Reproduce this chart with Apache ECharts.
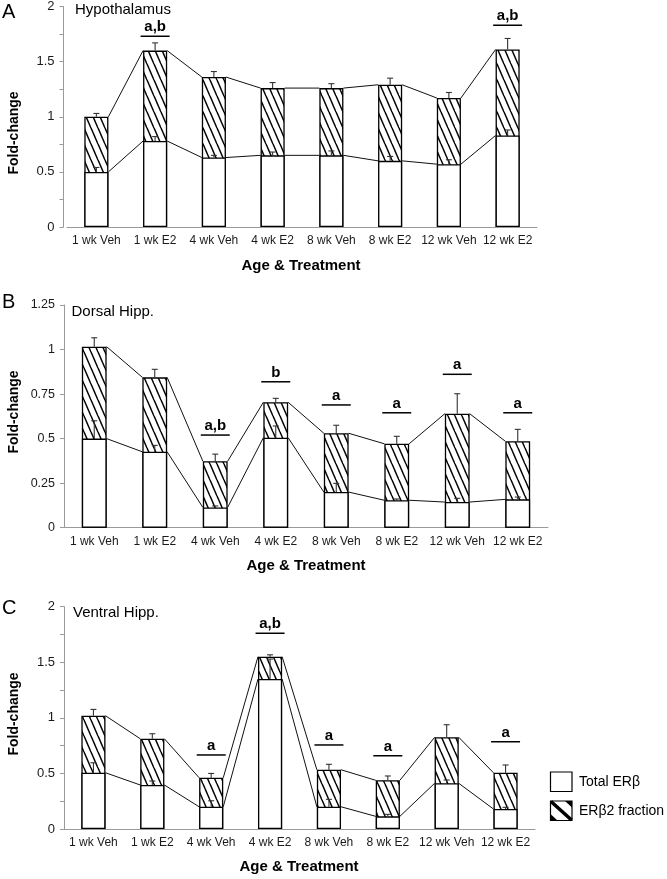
<!DOCTYPE html>
<html><head><meta charset="utf-8">
<script src="https://cdn.jsdelivr.net/npm/echarts@6/dist/echarts.min.js"></script>
<style>html,body{margin:0;padding:0;background:#fff}#c{width:667px;height:879px}</style>
</head><body><div id="c"></div>
<script>
// ---------- DATA ----------
const categories = ['1 wk Veh','1 wk E2','4 wk Veh','4 wk E2','8 wk Veh','8 wk E2','12 wk Veh','12 wk E2'];

// Panel A: Hypothalamus
const A_total    = [1.00, 1.60, 1.36, 1.26, 1.26, 1.29, 1.17, 1.61];
const A_totalErr = [0.03, 0.07, 0.05, 0.05, 0.04, 0.06, 0.05, 0.10];
const A_low      = [0.50, 0.78, 0.63, 0.65, 0.65, 0.60, 0.57, 0.83];
const A_lowErr   = [0.04, 0.04, 0.02, 0.03, 0.04, 0.04, 0.04, 0.05];
const A_sigIdx   = [1, 7];
const A_sigText  = ['a,b', 'a,b'];
const A_sigY     = [1.73, 1.83];

// Panel B: Dorsal Hipp.
const B_total    = [1.016, 0.844, 0.373, 0.704, 0.530, 0.471, 0.640, 0.485];
const B_totalErr = [0.050, 0.045, 0.040, 0.022, 0.045, 0.042, 0.112, 0.067];
const B_low      = [0.500, 0.426, 0.114, 0.505, 0.200, 0.154, 0.144, 0.159];
const B_lowErr   = [0.100, 0.036, 0.008, 0.066, 0.049, 0.007, 0.021, 0.013];
const B_sigIdx   = [2, 3, 4, 5, 6, 7];
const B_sigText  = ['a,b', 'b', 'a', 'a', 'a', 'a'];
const B_sigY     = [0.520, 0.819, 0.689, 0.645, 0.861, 0.645];

// Panel C: Ventral Hipp.
const C_total    = [1.019, 0.812, 0.461, 1.550, 0.533, 0.438, 0.825, 0.506];
const C_totalErr = [0.057, 0.045, 0.039, 0.017, 0.049, 0.039, 0.113, 0.070];
const C_low      = [0.506, 0.396, 0.200, 1.349, 0.200, 0.114, 0.411, 0.180];
const C_lowErr   = [0.090, 0.036, 0.054, 0.180, 0.067, 0.018, 0.030, 0.015];
const C_sigIdx   = [2, 3, 4, 5, 7];
const C_sigText  = ['a', 'a,b', 'a', 'a', 'a'];
const C_sigY     = [0.666, 1.761, 0.756, 0.659, 0.785];

const yTicksA = {min: 0, max: 2, interval: 0.25};
const yTicksB = {min: 0, max: 1.25, interval: 0.25};
const yTicksC = {min: 0, max: 2, interval: 0.25};

// ---------- STYLE ----------
const FONT = '"Liberation Sans", Arial, sans-serif';
const BAR_FRAC = 0.41;

function hatchPattern() {
  const c = document.createElement('canvas');
  c.width = 7; c.height = 16;
  const ctx = c.getContext('2d');
  ctx.fillStyle = '#fff'; ctx.fillRect(0, 0, 7, 16);
  ctx.strokeStyle = '#000'; ctx.lineWidth = 1.5;
  for (const off of [-7, 0, 7]) {
    ctx.beginPath(); ctx.moveTo(off, 0); ctx.lineTo(off + 7, 16); ctx.stroke();
  }
  return {image: c, repeat: 'repeat'};
}
const HATCH = hatchPattern();

const panels = [
  {total: A_total, totalErr: A_totalErr, low: A_low, lowErr: A_lowErr, sigIdx: A_sigIdx, sigText: A_sigText, sigY: A_sigY, ticks: yTicksA, half: true,
   grid: {left: 67, top: 3, width: 470, height: 224}, yOffset: 3.5},
  {total: B_total, totalErr: B_totalErr, low: B_low, lowErr: B_lowErr, sigIdx: B_sigIdx, sigText: B_sigText, sigY: B_sigY, ticks: yTicksB, half: false,
   grid: {left: 64, top: 305, width: 484, height: 222.7}, yOffset: 0},
  {total: C_total, totalErr: C_totalErr, low: C_low, lowErr: C_lowErr, sigIdx: C_sigIdx, sigText: C_sigText, sigY: C_sigY, ticks: yTicksC, half: true,
   grid: {left: 64, top: 606.7, width: 471, height: 222.3}, yOffset: 0}
];

const grids = [], xAxes = [], yAxes = [], series = [];
panels.forEach((p, k) => {
  grids.push(p.grid);
  xAxes.push({
    type: 'category', gridIndex: k, data: categories,
    axisLine: {lineStyle: {color: '#9a9a9a', width: 1}},
    axisTick: {lineStyle: {color: '#9a9a9a'}, length: 4},
    axisLabel: {color: '#1a1a1a', fontSize: 12, fontFamily: FONT, margin: 8, interval: 0}
  });
  yAxes.push({
    type: 'value', gridIndex: k, min: p.ticks.min, max: p.ticks.max, interval: p.ticks.interval, offset: p.yOffset,
    axisLine: {show: true, lineStyle: {color: '#9a9a9a', width: 1}},
    axisTick: {show: true, lineStyle: {color: '#9a9a9a'}, length: 4},
    splitLine: {show: false},
    axisLabel: {color: '#1a1a1a', fontSize: p.half ? 13 : 12.5, fontFamily: FONT, margin: 9,
      formatter: v => {
        if (p.half && Math.abs(v * 2 - Math.round(v * 2)) > 1e-9) return '';
        return String(Math.round(v * 100) / 100);
      }}
  });
  // hatched (full) bars
  series.push({
    type: 'bar', xAxisIndex: k, yAxisIndex: k, data: p.total, barWidth: (BAR_FRAC * 100) + '%', barGap: '-100%',
    itemStyle: {color: HATCH, borderColor: '#000', borderWidth: 1.3}, silent: true, z: 2
  });
  // white (Total ERβ) bars
  series.push({
    type: 'bar', xAxisIndex: k, yAxisIndex: k, data: p.low, barWidth: (BAR_FRAC * 100) + '%', barGap: '-100%',
    itemStyle: {color: '#fff', borderColor: '#000', borderWidth: 1.3}, silent: true, z: 3
  });
  // connectors
  [p.total, p.low].forEach(vals => {
    const d = [];
    for (let i = 0; i < vals.length - 1; i++) d.push([i, vals[i], vals[i + 1]]);
    series.push({
      type: 'custom', xAxisIndex: k, yAxisIndex: k, data: d, silent: true, z: 4,
      encode: {x: 0, y: [1, 2]},
      renderItem: (params, api) => {
        const i = api.value(0);
        const p1 = api.coord([i, api.value(1)]);
        const p2 = api.coord([i + 1, api.value(2)]);
        const bw = api.size([1, 0])[0] * BAR_FRAC;
        return {type: 'line', shape: {x1: p1[0] + bw / 2, y1: p1[1], x2: p2[0] - bw / 2, y2: p2[1]},
                style: {stroke: '#111', lineWidth: 1}};
      }
    });
  });
  // error bars
  [[p.total, p.totalErr], [p.low, p.lowErr]].forEach(([vals, errs]) => {
    const d = vals.map((v, i) => [i, v, v + errs[i]]);
    series.push({
      type: 'custom', xAxisIndex: k, yAxisIndex: k, data: d, silent: true, z: 5,
      encode: {x: 0, y: [1, 2]},
      renderItem: (params, api) => {
        const i = api.value(0);
        const a = api.coord([i, api.value(1)]);
        const b = api.coord([i, api.value(2)]);
        return {type: 'group', children: [
          {type: 'line', shape: {x1: a[0], y1: a[1], x2: b[0], y2: b[1]}, style: {stroke: '#333', lineWidth: 1.1}},
          {type: 'line', shape: {x1: b[0] - 3, y1: b[1], x2: b[0] + 3, y2: b[1]}, style: {stroke: '#333', lineWidth: 1.1}}
        ]};
      }
    });
  });
  // significance annotations
  const sd = p.sigIdx.map((i, j) => [i, p.sigY[j]]);
  series.push({
    type: 'custom', xAxisIndex: k, yAxisIndex: k, data: sd, silent: true, z: 6,
    encode: {x: 0, y: 1},
    renderItem: (params, api) => {
      const c = api.coord([api.value(0), api.value(1)]);
      const txt = p.sigText[params.dataIndex];
      return {type: 'group', children: [
        {type: 'line', shape: {x1: c[0] - 14.5, y1: c[1], x2: c[0] + 14.5, y2: c[1]}, style: {stroke: '#000', lineWidth: 1.5}},
        {type: 'text', style: {text: txt, x: c[0], y: c[1] - 1.5, align: 'center', verticalAlign: 'bottom',
          fontSize: 15, fontWeight: 'bold', fontFamily: FONT, fill: '#000'}}
      ]};
    }
  });
});

// ---------- TEXT / LEGEND ----------
const txt = (t, x, y, size, bold, extra) => Object.assign({
  type: 'text', x: x, y: y,
  style: {text: t, fontSize: size, fontWeight: bold ? 'bold' : 'normal', fontFamily: FONT, fill: '#000',
          align: 'left', verticalAlign: 'middle'}
}, extra || {});

const graphics = [
  txt('A', 2, 12, 20, false), txt('B', 2, 302, 20, false), txt('C', 2, 608, 20, false),
  txt('Hypothalamus', 75, 9.5, 15, false),
  txt('Dorsal Hipp.', 71.5, 312, 15, false),
  txt('Ventral Hipp.', 73, 613, 15, false),
  txt('Fold-change', 14, 133, 14, true, {rotation: Math.PI / 2, style: {text: 'Fold-change', fontSize: 14, fontWeight: 'bold', fontFamily: FONT, fill: '#000', align: 'center', verticalAlign: 'middle'}}),
  txt('Fold-change', 14, 412, 14, true, {rotation: Math.PI / 2, style: {text: 'Fold-change', fontSize: 14, fontWeight: 'bold', fontFamily: FONT, fill: '#000', align: 'center', verticalAlign: 'middle'}}),
  txt('Fold-change', 14, 714, 14, true, {rotation: Math.PI / 2, style: {text: 'Fold-change', fontSize: 14, fontWeight: 'bold', fontFamily: FONT, fill: '#000', align: 'center', verticalAlign: 'middle'}}),
  txt('Age & Treatment', 301, 266, 15, true, {style: {text: 'Age & Treatment', fontSize: 15, fontWeight: 'bold', fontFamily: FONT, fill: '#000', align: 'center', verticalAlign: 'middle'}}),
  txt('Age & Treatment', 306, 566, 15, true, {style: {text: 'Age & Treatment', fontSize: 15, fontWeight: 'bold', fontFamily: FONT, fill: '#000', align: 'center', verticalAlign: 'middle'}}),
  txt('Age & Treatment', 299, 867, 15, true, {style: {text: 'Age & Treatment', fontSize: 15, fontWeight: 'bold', fontFamily: FONT, fill: '#000', align: 'center', verticalAlign: 'middle'}}),
  // legend
  {type: 'rect', shape: {x: 550.5, y: 772, width: 21.5, height: 19.5}, style: {fill: '#fff', stroke: '#000', lineWidth: 1.2}},
  txt('Total ERβ', 579, 782, 14, false),
  {type: 'group', children: [
    {type: 'rect', shape: {x: 550.5, y: 801, width: 21.5, height: 19.5}, style: {fill: '#fff', stroke: '#000', lineWidth: 1.2}},
    {type: 'line', shape: {x1: 551, y1: 801.5, x2: 571.5, y2: 820}, style: {stroke: '#000', lineWidth: 3.5}},
    {type: 'polygon', shape: {points: [[565, 801], [572, 801], [572, 807.5]]}, style: {fill: '#000'}},
    {type: 'polygon', shape: {points: [[550.5, 814], [550.5, 820.5], [557.5, 820.5]]}, style: {fill: '#000'}}
  ]},
  txt('ERβ2 fraction', 579, 811, 14, false)
];

const chart = echarts.init(document.getElementById('c'), null, {renderer: 'canvas'});
chart.setOption({
  animation: false,
  backgroundColor: '#fff',
  textStyle: {fontFamily: FONT},
  grid: grids, xAxis: xAxes, yAxis: yAxes, series: series,
  graphic: graphics
});
</script>
</body></html>
